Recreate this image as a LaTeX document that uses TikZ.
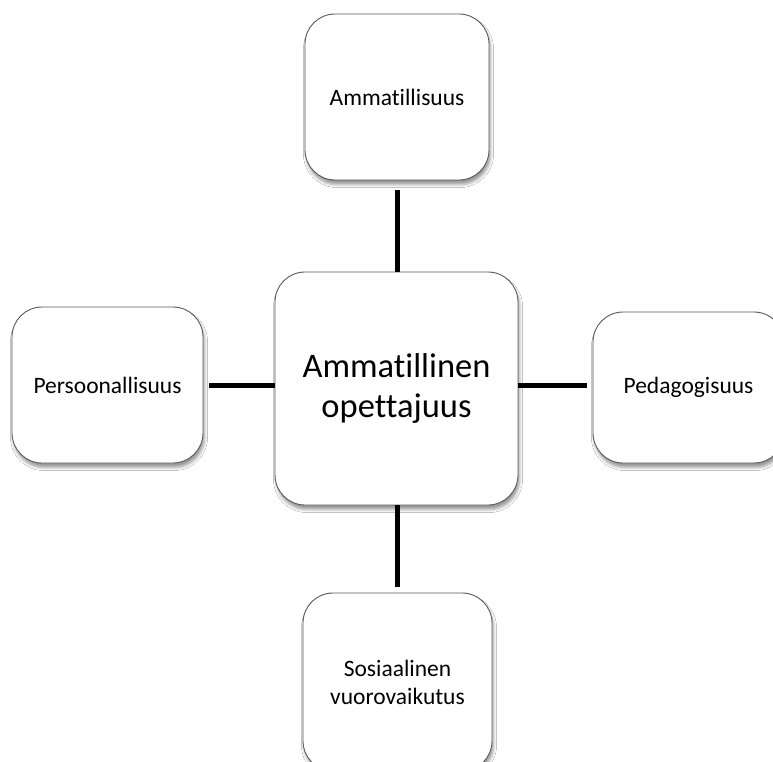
\documentclass[tikz,border=0pt]{standalone}
\usepackage{fontspec}
\setmainfont[Ligatures=NoCommon]{Carlito}
\usetikzlibrary{shadows.blur}
\begin{document}
\begin{tikzpicture}[x=1pt,y=1pt,
  box/.style={draw=black!65, line width=0.9pt, fill=white, rounded corners=30pt,
    blur shadow={shadow xshift=1.5pt, shadow yshift=-4.5pt, shadow blur radius=3pt, shadow opacity=40},
    align=center, inner sep=0pt},
  link/.style={line width=5pt, black}]
\clip (0,0) rectangle (773,-762);
\fill[white] (0,0) rectangle (773,-762);
\node[box, minimum width=243pt, minimum height=233pt, font=\fontsize{34.5}{40}\selectfont] (c) at (396.5,-388.5) {Ammatillinen\\opettajuus};
\node[box, minimum width=184pt, minimum height=166pt, font=\fontsize{23.5}{28}\selectfont] (t) at (397,-97) {Ammatillisuus};
\node[box, minimum width=191pt, minimum height=156pt, font=\fontsize{23.5}{28}\selectfont] (l) at (107.5,-385) {Persoonallisuus};
\node[box, minimum width=191pt, minimum height=151pt, font=\fontsize{23.5}{28}\selectfont] (r) at (688.5,-387.5) {Pedagogisuus};
\node[box, minimum width=189pt, minimum height=178pt, font=\fontsize{23.5}{28}\selectfont] (b) at (397.5,-682) {Sosiaalinen\\vuorovaikutus};
\coordinate (t1) at (397,-190);
\coordinate (b1) at (397,-587);
\coordinate (l1) at (209,-385);
\coordinate (r1) at (587,-385);
\draw[link] (t1) -- (t1 |- c.north);
\draw[link] (b1) -- (b1 |- c.south);
\draw[link] (l1) -- (l1 -| c.west);
\draw[link] (r1) -- (r1 -| c.east);
\end{tikzpicture}
\end{document}
